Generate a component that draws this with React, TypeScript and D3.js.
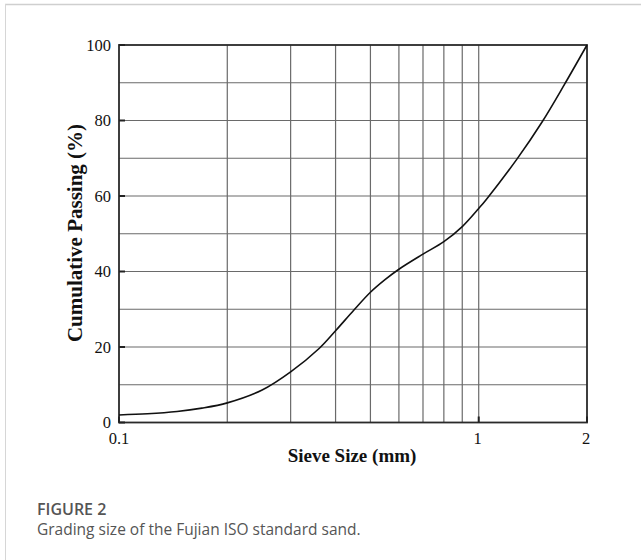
import * as d3 from "d3";
import { useEffect, useRef } from "react";

// sieve sizes (mm) and cumulative passing (%)
const sieveSizes = [0.1, 0.12, 0.145, 0.17, 0.2, 0.25, 0.3, 0.36, 0.4, 0.45, 0.5, 0.55, 0.6, 0.7, 0.8, 0.9, 1.0, 1.05, 1.28, 1.5, 1.73, 2];
const passing = [2.0, 2.3, 2.9, 3.8, 5.2, 8.6, 13.4, 19.6, 24.3, 29.8, 34.5, 37.9, 40.6, 44.6, 47.9, 51.9, 56.7, 59.1, 69.9, 79.6, 89.5, 100];

const xGrid = [0.2, 0.3, 0.4, 0.5, 0.6, 0.7, 0.8, 0.9, 1];
const xTicks = [0.1, 1, 2];
const xTickLabels = ["0.1", "1", "2"];
const yGrid = [10, 20, 30, 40, 50, 60, 70, 80, 90];
const yTicks = [0, 20, 40, 60, 80, 100];

const W = 641;
const H = 560;

const App = () => {
  const ref = useRef<SVGSVGElement | null>(null);

  useEffect(() => {
    const svg = d3.select(ref.current);
    svg.selectAll("*").remove();

    const x = d3.scaleLog().domain([0.1, 2]).range([119, 587]);
    const y = d3.scaleLinear().domain([0, 100]).range([422.5, 45]);
    const serif = "'Liberation Serif', 'Times New Roman', serif";

    // рамка страницы
    svg.append("line").attr("x1", 5).attr("x2", W).attr("y1", 4.5).attr("y2", 4.5)
      .attr("stroke", "#cfcfcf").attr("stroke-width", 1.5);
    svg.append("line").attr("x1", 5.5).attr("x2", 5.5).attr("y1", 4).attr("y2", H)
      .attr("stroke", "#d6d6d6").attr("stroke-width", 1);

    // сетка
    const grid = svg.append("g").attr("stroke", "#6a6a6a").attr("stroke-width", 1.2);
    xGrid.forEach((v) => {
      grid.append("line").attr("x1", x(v)).attr("x2", x(v)).attr("y1", y(0)).attr("y2", y(100));
    });
    yGrid.forEach((v) => {
      grid.append("line").attr("x1", x(0.1)).attr("x2", x(2)).attr("y1", y(v)).attr("y2", y(v));
    });

    // рамка графика
    svg.append("rect")
      .attr("x", x(0.1)).attr("y", y(100))
      .attr("width", x(2) - x(0.1)).attr("height", y(0) - y(100))
      .attr("fill", "none").attr("stroke", "#2a2a2a").attr("stroke-width", 1.8);

    // засечки внутрь
    const ticks = svg.append("g").attr("stroke", "#222").attr("stroke-width", 2);
    yTicks.forEach((v) => {
      ticks.append("line").attr("x1", x(0.1)).attr("x2", x(0.1) + 6).attr("y1", y(v)).attr("y2", y(v));
    });
    xTicks.forEach((v) => {
      ticks.append("line").attr("x1", x(v)).attr("x2", x(v)).attr("y1", y(0)).attr("y2", y(0) - 6);
    });

    // кривая
    const line = d3.line<number>()
      .x((d, i) => x(sieveSizes[i]))
      .y((d) => y(d))
      .curve(d3.curveCatmullRom.alpha(0.5));
    svg.append("path")
      .attr("d", line(passing))
      .attr("fill", "none")
      .attr("stroke", "#111")
      .attr("stroke-width", 1.6);

    // подписи осей
    yTicks.forEach((v) => {
      svg.append("text")
        .attr("x", 111).attr("y", y(v)).attr("dy", "0.35em")
        .attr("text-anchor", "end")
        .style("font-family", serif).style("font-size", "16.5px").attr("fill", "#111")
        .text(String(v));
    });
    xTicks.forEach((v, i) => {
      svg.append("text")
        .attr("x", x(v) + (i === 0 ? 0 : -1)).attr("y", 444)
        .attr("text-anchor", "middle")
        .style("font-family", serif).style("font-size", "16.5px").attr("fill", "#111")
        .text(xTickLabels[i]);
    });

    svg.append("text")
      .attr("x", 352).attr("y", 462)
      .attr("text-anchor", "middle")
      .style("font-family", serif).style("font-size", "19px").style("font-weight", "bold")
      .attr("fill", "#111")
      .text("Sieve Size (mm)");

    svg.append("text")
      .attr("transform", "translate(82,233) rotate(-90)")
      .attr("text-anchor", "middle")
      .style("font-family", serif).style("font-size", "21px").style("font-weight", "bold")
      .attr("fill", "#111")
      .text("Cumulative Passing (%)");

    // подпись рисунка
    svg.append("text")
      .attr("x", 37).attr("y", 515)
      .style("font-family", "'Open Sans', sans-serif").style("font-size", "16px").style("font-weight", 600)
      .attr("fill", "#555")
      .text("FIGURE 2");
    svg.append("text")
      .attr("x", 37).attr("y", 535)
      .style("font-family", "'Open Sans', sans-serif").style("font-size", "15.5px")
      .attr("fill", "#555")
      .text("Grading size of the Fujian ISO standard sand.");
  }, []);

  return (
    <div style={{ position: "absolute", left: 0, top: 0 }}>
      <svg ref={ref} width={W} height={H} style={{ display: "block", background: "#fff" }} />
    </div>
  );
};

export default App;
